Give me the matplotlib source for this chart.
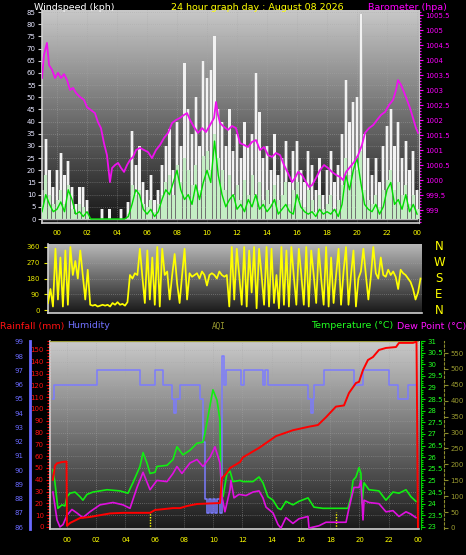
import numpy as np
import matplotlib
matplotlib.use('Agg')
import matplotlib.pyplot as plt
from matplotlib.colors import LinearSegmentedColormap
from matplotlib.ticker import MultipleLocator, FuncFormatter

# ---------------- data ----------------
title_text = "24 hour graph day : August 08 2026"

# wind (15 minute samples starting at 23:00 previous day)
wind_start_hour = -1.0
wind_step_hours = 0.25
wind_gust = [12,33,20,13, 20,27,18,24, 13,6,13,13, 8,0,0,0, 4,0,4,0, 0,4,0,7,
             36,22,30,15, 12,18,8,12, 22,30,37,20, 40,30,64,45, 35,50,30,65,
             58,61,75,45, 40,30,45,28, 35,25,40,30, 35,60,44,25, 30,20,35,18,
             25,32,15,28, 32,20,15,28, 22,12,25,10, 20,28,15,22, 35,57,40,48,
             50,84,35,25, 18,25,15,30, 38,45,30,40, 25,32,20,28, 12]
wind_speed = [5,18,10,6, 8,12,6,14, 4,2,6,5, 2,0,0,0, 0,0,0,0, 0,0,0,2,
              14,10,12,6, 5,8,3,6, 10,15,18,10, 22,15,25,20, 14,22,12,26,
              28,20,35,25, 20,12,18,10, 14,8,16,10, 18,10,15,8, 12,6,14,8,
              10,15,6,12, 15,8,5,12, 8,3,10,4, 6,10,4,8, 14,25,18,22,
              20,28,12,8, 6,10,5,12, 16,20,12,15, 10,14,6,10, 4]
wind_avg = [3,10,6,3, 4,7,3,12, 8,2,3,1, 3,0,0,0, 0,0,0,0, 0,0,0,1,
            6,12,10,4, 2,4,1,3, 8,12,10,15, 20,12,8,10, 6,14,8,15,
            20,15,32,18, 10,5,8,10, 4,6,3,8, 5,10,4,6, 3,5,8,2,
            4,6,3,2, 10,5,3,2, 3,1,4,2, 3,2,4,1, 6,18,12,20,
            25,15,6,4, 3,6,2,5, 12,15,6,8, 4,10,3,6, 2]

baro_hours = [-1.0,-0.87,-0.67,-0.53,-0.33,-0.13,0.07,0.27,0.47,0.67,0.87,1.07,1.27,1.53,1.8,
              2.0,2.27,2.53,2.73,2.93,3.13,3.33,3.53,3.67,3.87,4.07,4.27,4.47,4.67,4.87,
              5.07,5.27,5.53,5.8,6.07,6.33,6.6,6.87,7.13,7.4,7.67,7.93,8.2,8.47,8.67,
              8.87,9.13,9.4,9.67,9.93,10.2,10.47,10.6,10.73,10.87,11.13,11.4,11.67,11.93,
              12.2,12.47,12.73,13.0,13.27,13.53,13.8,14.07,14.33,14.6,14.87,15.13,15.4,
              15.67,15.87,16.07,16.33,16.6,16.8,17.0,17.27,17.53,17.8,18.07,18.33,18.6,
              18.87,19.07,19.27,19.53,19.8,20.07,20.33,20.53,20.8,21.07,21.33,21.6,21.87,
              22.13,22.4,22.6,22.73,22.93,23.13,23.33,23.53,23.73,23.93,24.07]
baro_values = [1003.40,1004.17,1004.57,1003.83,1003.67,1003.40,1003.57,1003.40,1003.53,1003.33,
               1003.00,1003.07,1002.90,1002.77,1002.67,1002.43,1002.33,1002.23,1001.93,1001.73,
               1001.23,1000.83,999.93,1000.40,1000.50,1000.57,1000.40,1000.27,1000.50,1000.67,
               1000.77,1001.00,1001.07,1001.00,1000.93,1000.73,1001.00,1001.17,1001.40,1001.57,
               1001.90,1002.00,1002.07,1002.17,1002.23,1002.00,1001.77,1001.57,1001.73,1001.60,
               1001.83,1002.07,1002.60,1002.17,1001.90,1001.77,1001.67,1001.80,1001.73,1001.23,
               1001.17,1001.10,1001.27,1001.33,1001.00,1001.10,1000.83,1000.77,1000.90,1000.83,
               1000.50,1000.23,999.93,1000.07,1000.27,1000.17,999.93,999.77,999.83,1000.07,
               1000.33,1000.50,1000.40,1000.27,1000.17,1000.10,1000.00,1000.27,1000.43,1000.60,
               1000.83,1001.17,1001.57,1001.73,1001.83,1002.00,1002.17,1002.27,1002.50,1002.67,
               1003.00,1003.33,1003.17,1002.93,1002.67,1002.40,1002.07,1001.73,1001.57]

# wind direction (10 minute samples starting at 23:00 previous day)
dir_start_hour = -1.0
dir_step_hours = 1/6
wind_dir = [40,120,20,350,60,300,
            20,340,30,360,200,280,
            180,340,200,60,230,30,
            25,30,20,25,30,25,
            30,20,40,30,45,30,
            35,25,45,200,180,210,
            200,350,190,40,340,60,
            300,30,360,20,350,200,
            220,60,200,320,150,40,
            200,350,60,210,190,200,
            210,180,220,200,140,200,
            210,200,180,220,200,190,
            200,20,360,60,350,200,
            30,360,20,340,100,360,
            10,350,200,30,360,20,
            350,40,200,10,360,30,
            340,20,360,190,30,350,
            200,30,360,20,340,200,
            40,350,180,30,360,20,
            300,40,200,350,30,220,
            360,30,200,340,20,180,
            220,350,200,60,190,360,
            210,180,300,200,190,230,
            200,220,190,120,230,210,
            200,180,160,120,60,100,
            180]

hum_hours = [-0.96,-0.89,2.05,4.99,6.02,6.56,7.18,7.32,7.45,7.73,
             9.09,9.30,9.44,9.57,9.71,9.85,9.98,10.12,10.26,10.46,
             10.60,10.74,10.87,11.90,12.10,13.40,13.54,13.74,16.48,16.68,
             16.82,16.89,17.57,19.62,20.24,22.02,22.63,23.32,23.86]
hum_values = [95,96,97,96,97,96,95,94,95,96,
              95,92,88,87,88,87,88,87,88,87,
              98,96,97,96,97,96,97,96,95,94,
              95,96,97,96,97,96,95,96,96]

rain_hours = [-0.96,-0.82,-0.68,-0.34,-0.03,0.0,0.21,0.55,0.89,1.57,2.26,2.94,3.83,5.68,
              6.02,7.25,7.73,8.21,8.89,10.46,10.60,10.87,11.15,11.83,12.03,13.13,14.29,
              15.45,16.55,17.16,17.71,18.39,18.94,19.28,19.76,19.97,20.24,20.58,20.92,
              21.33,21.81,22.50,22.70,23.66,23.90,24.0]
rain_values = [40,52,54,55,55.5,1,3.4,5.5,7.6,8.5,10,11.5,12,12,
               14.4,16,16,17.8,19.5,20.3,41.5,45,50,55,59,67,77,
               82,85,86.4,93,102,103,113.5,122,123,133,141.5,144,
               150,151.7,152.5,156,156,157,0]

temp_hours = [-0.96,-0.82,-0.62,-0.34,-0.14,0.0,0.21,0.55,0.89,1.09,1.37,1.78,2.74,3.62,
              4.17,4.51,4.99,5.20,5.47,5.68,6.02,6.15,6.84,7.25,7.52,7.93,8.41,8.89,
              9.30,9.44,9.98,10.26,10.46,10.53,10.67,10.94,11.15,11.35,11.83,12.03,12.72,
              13.13,13.40,13.74,14.09,14.43,14.63,14.97,15.45,15.86,16.48,16.89,17.50,
              18.39,19.21,19.42,19.56,19.76,19.97,20.10,20.17,20.31,20.65,21.33,21.81,
              22.29,22.70,23.18,23.52,23.86]
temp_values = [25.45,24.9,23.8,23.95,23.9,24.3,24.45,24.5,24.3,24.15,24.4,24.5,24.6,24.55,
               24.45,24.9,25.6,26.2,25.75,25.3,25.35,25.6,25.65,25.9,26.45,26.1,26.3,26.6,
               26.65,27.05,28.9,28.45,27.6,24.5,24.3,25.3,25.4,24.95,25.0,24.95,24.95,
               25.15,24.9,24.3,24.15,23.8,23.75,24.1,23.95,24.1,24.25,23.85,23.8,
               23.8,23.8,24.3,25.0,25.15,25.55,25.3,24.0,24.9,24.6,24.55,24.15,
               24.5,24.45,24.6,24.3,24.1]

dew_hours = [-0.96,-0.68,-0.48,-0.27,0.0,0.34,0.68,1.09,1.57,2.26,3.15,3.83,4.31,4.79,
             5.20,5.68,6.15,6.84,7.25,7.52,7.86,8.41,8.89,9.30,9.78,10.12,10.46,10.60,
             10.80,11.15,11.21,11.42,11.76,12.24,12.72,13.13,13.40,13.61,14.09,14.43,
             14.63,14.97,15.45,15.86,16.48,16.55,17.23,17.71,19.08,19.28,19.62,19.97,
             20.10,20.24,20.31,20.65,21.33,21.81,22.29,22.70,23.18,23.52,23.86]
dew_values = [24.5,23.3,23.0,23.1,23.5,23.75,23.6,23.4,23.65,23.95,24.05,23.95,23.8,24.7,
              25.35,24.6,25.0,24.95,25.3,25.6,25.3,25.75,25.9,25.6,26.0,26.45,25.75,24.3,
              23.65,24.6,25.0,24.25,24.4,24.35,24.5,24.55,24.25,23.85,23.6,23.1,
              22.95,23.4,23.15,23.35,23.45,22.95,23.05,23.2,23.2,23.8,24.7,24.7,
              25.0,23.3,24.15,24.05,24.0,23.65,23.7,23.45,23.65,23.55,23.4]

aqi_hours = [-1.16, 24.07]
aqi_values = [587, 587]

sun_hours = [5.68, 18.39]   # sunrise / sunset markers

hour_ticks = list(range(0, 25, 2))
hour_labels = ["%02d" % (h % 24) for h in hour_ticks]

# ---------------- figure ----------------
W, H = 466, 555
fig = plt.figure(figsize=(W / 100, H / 100), dpi=100, facecolor='black')
FONT = 'DejaVu Sans'
TFS = 5.0


def rect(x0, y0, x1, y1):
    return [x0 / W, 1 - y1 / H, (x1 - x0) / W, (y1 - y0) / H]


def gradient(ax, top, bottom):
    cmap = LinearSegmentedColormap.from_list('g', [bottom, top])
    ax.imshow(np.linspace(0, 1, 256).reshape(-1, 1), cmap=cmap, origin='lower',
              extent=[0, 1, 0, 1], transform=ax.transAxes, aspect='auto', zorder=0)


def dotted_grid(ax, xs=None, ys=None, color='#a8a8a8'):
    for x in (xs or []):
        ax.axvline(x, color=color, lw=0.6, ls=(0, (1, 1.5)), alpha=0.55, zorder=0.5)
    for y in (ys or []):
        ax.axhline(y, color=color, lw=0.6, ls=(0, (1, 1.5)), alpha=0.55, zorder=0.5)


# ----- top panel: wind speed + barometer -----
ax1 = fig.add_axes(rect(42, 10, 419, 223))
ax1.set_facecolor('black')
gradient(ax1, '#c8c8c8', '#151515')
wt = wind_start_hour + wind_step_hours * np.arange(len(wind_gust))
ax1.bar(wt, wind_gust, width=wind_step_hours, color='#b9b9b9', linewidth=0, zorder=2, alpha=0.55)
ax1.bar(wt, wind_gust, width=wind_step_hours * 0.6, color='#f2f2f2', linewidth=0, zorder=2.5)
ax1.bar(wt, wind_speed, width=wind_step_hours * 0.8, color='#c4eec4', linewidth=0, zorder=3)
ax1.plot(wt, [0] * len(wt), color='#bbbbbb', lw=1.0, zorder=2.8)
ax1.plot(wt, wind_avg, color='#00dd00', lw=1.0, zorder=4)
ax1.set_xlim(-1.0, 24.13)
ax1.set_ylim(-1.64, 85.83)
dotted_grid(ax1, xs=hour_ticks, ys=list(range(5, 86, 5)))
ax1.yaxis.set_major_locator(MultipleLocator(5))
ax1.set_xticks(hour_ticks)
ax1.set_xticklabels(hour_labels)
ax1.tick_params(axis='x', length=0, pad=5, labelsize=TFS, labelcolor='#ffff00')
ax1.tick_params(axis='y', length=3, width=0.8, pad=1.5, labelsize=TFS,
                labelcolor='#e6e6ff', color='#cfcfcf')
for s in ['left', 'bottom']:
    ax1.spines[s].set_color('#d0d0d0')
    ax1.spines[s].set_linewidth(1.2)
ax1.spines['top'].set_visible(False)
ax1.spines['right'].set_color('#b0b0b0')

axb = ax1.twinx()
axb.plot(baro_hours, baro_values, color='#ee11ee', lw=1.3)
axb.set_ylim(998.567, 1005.667)
axb.set_xlim(-1.0, 24.13)
axb.yaxis.set_major_locator(MultipleLocator(0.5))
axb.yaxis.set_minor_locator(MultipleLocator(0.1))
axb.yaxis.set_major_formatter(FuncFormatter(lambda v, p: ('%g' % round(v, 1))))
axb.tick_params(axis='y', which='major', length=3, width=0.8, pad=1.5, labelsize=TFS,
                labelcolor='#ff00ff', color='#ff00ff')
axb.tick_params(axis='y', which='minor', length=1.5, width=0.8, color='#ff00ff')
for s in ['left', 'top', 'bottom']:
    axb.spines[s].set_visible(False)
axb.spines['right'].set_color('#c8c8c8')

fig.text(34 / W, 1 - 7 / H, "Windspeed (kph)", color='white', fontsize=6.8,
         family=FONT, ha='left', va='center')
fig.text(257 / W, 1 - 7 / H, title_text, color='#ffff00', fontsize=6.8,
         family=FONT, ha='center', va='center')
fig.text(447 / W, 1 - 7 / H, "Barometer (hpa)", color='#ff00ff', fontsize=6.8,
         family=FONT, ha='right', va='center')

# ----- middle panel: wind direction -----
ax2 = fig.add_axes(rect(48, 244, 422, 313))
ax2.set_facecolor('black')
gradient(ax2, '#b8b8b8', '#181818')
dt = dir_start_hour + dir_step_hours * np.arange(len(wind_dir))
ax2.plot(dt, wind_dir, color='#ffff00', lw=1.25, zorder=3)
ax2.set_xlim(-1.0, 24.1)
ax2.set_ylim(-17, 377)
dotted_grid(ax2, ys=[90, 180, 270])
ax2.set_yticks([0, 90, 180, 270, 360])
ax2.set_xticks([])
ax2.tick_params(axis='y', length=3, width=0.8, pad=3, labelsize=TFS,
                labelcolor='#e8e800', color='#e8e800')
for s in ['top', 'right']:
    ax2.spines[s].set_visible(False)
for s in ['left', 'bottom']:
    ax2.spines[s].set_color('#d0d0d0')
    ax2.spines[s].set_linewidth(1.2)
for lab, val in zip(['N', 'W', 'S', 'E', 'N'], [360, 270, 180, 90, 0]):
    ax2.text((439 - 48) / 374, val, lab, transform=ax2.get_yaxis_transform(),
             color='#ffff00', fontsize=8.5, family=FONT, ha='center', va='center')

# ----- bottom panel -----
X0, X1 = 50, 419
ax3 = fig.add_axes(rect(X0, 341, X1, 529))
ax3.set_facecolor('black')
gradient(ax3, '#cacaca', '#1a1a1a')
xl = (-1.16, 24.07)
ax3.set_xlim(*xl)
ax3.set_ylim(-1.7, 157.6)
dotted_grid(ax3, xs=hour_ticks, ys=list(range(10, 151, 10)))
ax3.set_xticks(hour_ticks)
ax3.set_xticklabels(hour_labels)
ax3.tick_params(axis='x', length=0, pad=6, labelsize=TFS, labelcolor='#ffff00')
ax3.yaxis.set_major_locator(MultipleLocator(10))
ax3.yaxis.set_minor_locator(MultipleLocator(2.5))
ax3.tick_params(axis='y', which='major', length=3, width=0.8, pad=1.5, labelsize=TFS,
                labelcolor='#ff1111', color='#ff0000')
ax3.tick_params(axis='y', which='minor', length=2, width=0.8, color='#ff0000')
for s in ['top', 'right']:
    ax3.spines[s].set_visible(False)
for s in ['left', 'bottom']:
    ax3.spines[s].set_color('#d0d0d0')
    ax3.spines[s].set_linewidth(1.2)
for sh in sun_hours:
    ax3.axvline(sh, ymin=0, ymax=0.09, color='#ffff00', lw=1.0, ls=(0, (1, 1)), zorder=2)

# humidity axis (left, outer)
axh = ax3.twinx()
axh.yaxis.tick_left()
axh.spines['left'].set_position(('axes', (30 - X0) / (X1 - X0)))
axh.spines['left'].set_visible(True)
axh.spines['left'].set_color('#6a6aff')
axh.spines['left'].set_linewidth(2)
for s in ['right', 'top', 'bottom']:
    axh.spines[s].set_visible(False)
axh.step(hum_hours, hum_values, where='post', color='#7b7bff', lw=1.1)
axh.set_xlim(*xl)
axh.set_ylim(85.86, 99.07)
axh.yaxis.set_major_locator(MultipleLocator(1))
axh.tick_params(axis='y', length=0, pad=5, labelsize=TFS, labelcolor='#6a6aff')

# temperature / dew point axis (right)
axt = ax3.twinx()
axt.spines['right'].set_position(('axes', (421 - X0) / (X1 - X0)))
axt.spines['right'].set_color('#00cc00')
for s in ['left', 'top', 'bottom']:
    axt.spines[s].set_visible(False)
axt.plot(temp_hours, temp_values, color='#11ee11', lw=1.2)
axt.plot(dew_hours, dew_values, color='#e010e0', lw=1.2)
axt.set_xlim(*xl)
axt.set_ylim(22.91, 31.0)
axt.yaxis.set_major_locator(MultipleLocator(0.5))
axt.yaxis.set_minor_locator(MultipleLocator(0.1))
axt.yaxis.set_major_formatter(FuncFormatter(lambda v, p: ('%g' % round(v, 1))))
axt.tick_params(axis='y', which='major', length=3, width=0.8, pad=1.5, labelsize=TFS,
                labelcolor='#22ff22', color='#00dd00')
axt.tick_params(axis='y', which='minor', length=1.5, width=0.8, color='#00dd00')

# AQI axis (right, outer)
axq = ax3.twinx()
axq.spines['right'].set_position(('axes', (444 - X0) / (X1 - X0)))
axq.spines['right'].set_color('#8c8c2c')
axq.spines['right'].set_linestyle((0, (2, 2)))
for s in ['left', 'top', 'bottom']:
    axq.spines[s].set_visible(False)
axq.plot(aqi_hours, aqi_values, color='#9a9a3a', lw=1.6)
axq.set_xlim(*xl)
axq.set_ylim(-3.2, 588)
axq.yaxis.set_major_locator(MultipleLocator(50))
axq.tick_params(axis='y', length=3, width=0.8, pad=1.5, labelsize=TFS,
                labelcolor='#9a9a30', color='#8c8c2c')

# rainfall line on top
axr = ax3.twinx()
axr.plot(rain_hours, rain_values, color='#ff0000', lw=1.4)
axr.set_xlim(*xl)
axr.set_ylim(-1.7, 157.6)
axr.set_yticks([])
for s in axr.spines.values():
    s.set_visible(False)

fig.text(0 / W, 1 - 326 / H, "Rainfall (mm)", color='#ff1111', fontsize=6.8,
         family=FONT, ha='left', va='center')
fig.text(67 / W, 1 - 326 / H, "Humidity", color='#7070ff', fontsize=6.8,
         family=FONT, ha='left', va='center')
fig.text(212 / W, 1 - 326 / H, "AQI", color='#9a9a30', fontsize=5.5,
         family='DejaVu Sans Mono', ha='left', va='center')
fig.text(393 / W, 1 - 326 / H, "Temperature (\u00b0C)", color='#22ff22', fontsize=6.8,
         family=FONT, ha='right', va='center')
fig.text(466 / W, 1 - 326 / H, "Dew Point (\u00b0C)", color='#ff11ff', fontsize=6.8,
         family=FONT, ha='right', va='center')

fig.savefig('out.png', dpi=100, facecolor='black')
